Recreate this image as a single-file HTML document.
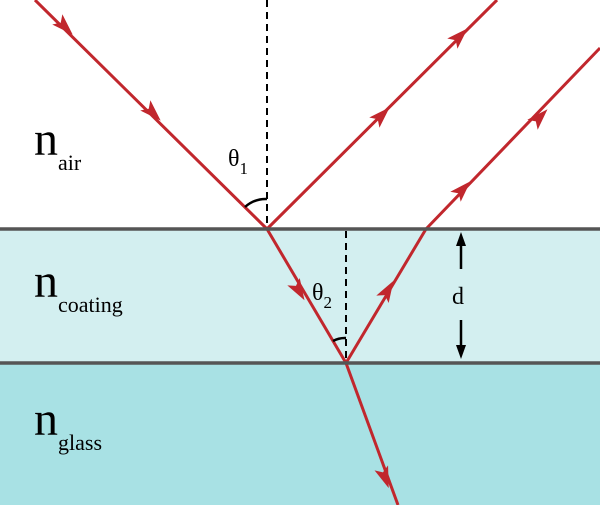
<!DOCTYPE html>
<html><head><style>body{margin:0}svg{display:block}</style></head><body>
<svg width="600" height="505" viewBox="0 0 600 505" xmlns="http://www.w3.org/2000/svg">
<defs>
<g id="ah"><polygon points="9,0 -9,-6 -5,0 -9,6" fill="#c1272d"/></g>
</defs>
<rect x="0" y="0" width="600" height="229" fill="#fff"/>
<rect x="0" y="229" width="600" height="134" fill="#d3eff0"/>
<rect x="0" y="363" width="600" height="142" fill="#a8e1e4"/>
<g stroke="#000" stroke-width="2" stroke-dasharray="7,5" fill="none">
<line x1="267" y1="0" x2="267" y2="229"/>
<line x1="346" y1="231" x2="346" y2="363"/>
</g>
<g stroke="#c1272d" stroke-width="3" fill="none">
<line x1="35" y1="0" x2="267" y2="229"/>
<line x1="267" y1="229" x2="497" y2="0"/>
<line x1="267" y1="229" x2="346" y2="363"/>
<line x1="346" y1="363" x2="426" y2="229"/>
<line x1="426" y1="229" x2="600" y2="48"/>
<line x1="346" y1="363" x2="398" y2="505"/>
</g>
<use href="#ah" transform="translate(65,27) rotate(44.6) scale(1.2)"/>
<use href="#ah" transform="translate(153,113) rotate(44.6) scale(1.2)"/>
<use href="#ah" transform="translate(382,115) rotate(-44.9) scale(1.2)"/>
<use href="#ah" transform="translate(460,36) rotate(-44.9) scale(1.2)"/>
<use href="#ah" transform="translate(463,189) rotate(-46) scale(1.2)"/>
<use href="#ah" transform="translate(540,117) rotate(-46) scale(1.2)"/>
<use href="#ah" transform="translate(299,291) rotate(59.5) scale(1.2)"/>
<use href="#ah" transform="translate(388,290) rotate(-59.2) scale(1.2)"/>
<use href="#ah" transform="translate(385,478) rotate(69.9) scale(1.2)"/>
<g stroke="#555" stroke-width="3.5">
<line x1="0" y1="229" x2="600" y2="229"/>
<line x1="0" y1="363" x2="600" y2="363"/>
</g>
<g stroke="#000" stroke-width="2.5" fill="none">
<path d="M245,207 A31,31 0 0 1 267,199"/>
<path d="M333,341 A25,25 0 0 1 346,338"/>
<line x1="461" y1="238" x2="461" y2="269"/>
<line x1="461" y1="320" x2="461" y2="352"/>
</g>
<polygon points="461,232 456,246 466,246" fill="#000"/>
<polygon points="461,359 456,345 466,345" fill="#000"/>
<g font-family="Liberation Serif, serif" fill="#000">
<text x="34" y="155" font-size="48">n<tspan font-size="22" dy="15">air</tspan></text>
<text x="34" y="297" font-size="48">n<tspan font-size="22" dy="15">coating</tspan></text>
<text x="34" y="435" font-size="48">n<tspan font-size="22" dy="15">glass</tspan></text>
<text x="228" y="166" font-size="24">θ<tspan font-size="17" dy="8">1</tspan></text>
<text x="312" y="300" font-size="24">θ<tspan font-size="17" dy="8">2</tspan></text>
<text x="452" y="304" font-size="24">d</text>
</g>
</svg>
</body></html>
